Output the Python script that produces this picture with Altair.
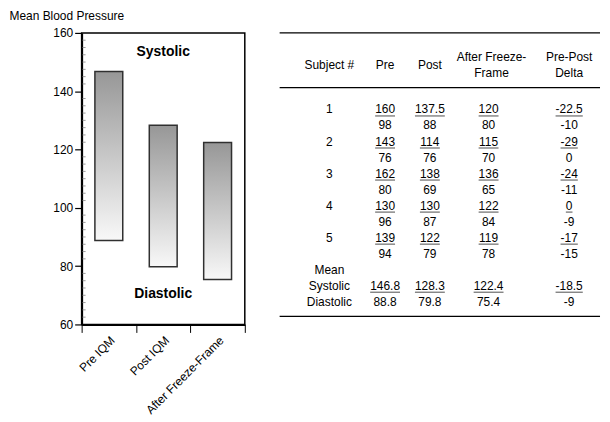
import altair as alt
import pandas as pd

FONT = "Liberation Sans"

# ---- left chart data ----
groups = ["Pre IQM", "Post IQM", "After Freeze-Frame"]
systolic_mean = [146.8, 128.3, 122.4]
diastolic_mean = [88.8, 79.8, 75.4]
annot_text = ["Systolic", "Diastolic"]
annot_y = [153.5, 70.6]
y_ticks = [60, 80, 100, 120, 140, 160]
y_minor = [62.5, 65, 67.5, 70, 72.5, 75, 77.5, 82.5, 85, 87.5, 90, 92.5, 95, 97.5,
           102.5, 105, 107.5, 110, 112.5, 115, 117.5, 122.5, 125, 127.5, 130, 132.5, 135, 137.5,
           142.5, 145, 147.5, 150, 152.5, 155, 157.5]

# ---- table data ----
subjects = ["1", "2", "3", "4", "5"]
pre_sys = ["160", "143", "162", "130", "139"]
pre_dia = ["98", "76", "80", "96", "94"]
post_sys = ["137.5", "114", "138", "130", "122"]
post_dia = ["88", "76", "69", "87", "79"]
ff_sys = ["120", "115", "136", "122", "119"]
ff_dia = ["80", "70", "65", "84", "78"]
delta_sys = ["-22.5", "-29", "-24", "0", "-17"]
delta_dia = ["-10", "0", "-11", "-9", "-15"]
mean_sys = ["146.8", "128.3", "122.4", "-18.5"]
mean_dia = ["88.8", "79.8", "75.4", "-9"]

columns = ["subject", "pre", "post", "ff", "delta"]
header_text = ["Subject #", "Pre", "Post", "After Freeze-", "Frame", "Pre-Post", "Delta"]
header_col = ["subject", "pre", "post", "ffh", "ffh", "delta", "delta"]
header_row = [-2.8, -2.8, -2.8, -3.29, -2.30, -3.29, -2.30]
rule_rows = [-4.78, -1.37, 12.92]

# layout: column centre positions inside the table panel (px)
col_pos = {"subject": 50, "pre": 106, "post": 151, "ff": 210, "ffh": 213, "delta": 291}
TABLE_W = 322
TFS = 12

# build table cells
cells = []
for t, c, r in zip(header_text, header_col, header_row):
    cells.append({"text": t, "col": c, "row": r, "ul": False})
for k in range(5):
    for c, v in zip(columns, [subjects[k], pre_sys[k], post_sys[k], ff_sys[k], delta_sys[k]]):
        cells.append({"text": v, "col": c, "row": 2 * k, "ul": c != "subject"})
    for c, v in zip(columns[1:], [pre_dia[k], post_dia[k], ff_dia[k], delta_dia[k]]):
        cells.append({"text": v, "col": c, "row": 2 * k + 1, "ul": False})
cells.append({"text": "Mean", "col": "subject", "row": 10, "ul": False})
cells.append({"text": "Systolic", "col": "subject", "row": 11, "ul": False})
cells.append({"text": "Diastolic", "col": "subject", "row": 12, "ul": False})
for c, v in zip(columns[1:], mean_sys):
    cells.append({"text": v, "col": c, "row": 11, "ul": True})
for c, v in zip(columns[1:], mean_dia):
    cells.append({"text": v, "col": c, "row": 12, "ul": False})

def text_width(s, size=TFS):
    w = {".": 278, "-": 333}
    return sum(w.get(ch, 556) for ch in s) * size / 1000.0

cells_df = pd.DataFrame(cells)
cells_df["w"] = cells_df["text"].apply(text_width)
cells_df["cx"] = cells_df["col"].map(col_pos)
ul_df = cells_df[cells_df["ul"]]

# ---- left chart ----
bars_df = pd.DataFrame({"group": groups, "sys": systolic_mean, "dia": diastolic_mean})
annot_df = pd.DataFrame({"group": [groups[1]] * 2, "label": annot_text, "y": annot_y})
minor_df = pd.DataFrame({"v": y_minor})

grad = alt.Gradient(
    gradient="linear",
    stops=[alt.GradientStop(color="#979797", offset=0),
           alt.GradientStop(color="#f8f8f8", offset=1)],
    x1=0, x2=0, y1=0, y2=1,
)

xscale = alt.Scale(domain=groups, paddingInner=0, paddingOuter=0)
xenc = alt.X(
    "group:N", sort=groups, title=None, scale=xscale,
    axis=alt.Axis(labelAngle=-45, tickBand="extent", tickSize=8, domainWidth=2,
                  domainColor="black", tickColor="black", labelFontSize=12,
                  labelColor="black", labelFont=FONT, labelPadding=2),
)
yscale = alt.Scale(domain=[60, 160], nice=False, zero=False)

bars = alt.Chart(bars_df).mark_bar(fill=grad, stroke="#303030", strokeWidth=1.5, size=28).encode(
    x=xenc,
    y=alt.Y("sys:Q", scale=yscale,
            axis=alt.Axis(values=y_ticks, grid=False, domainWidth=2,
                          domainColor="black", tickColor="black", tickSize=7, tickWidth=1.2,
                          labelFontSize=12, labelColor="black", labelFont=FONT, labelPadding=2,
                          title="Mean Blood Pressure", titleAngle=0, titleAlign="left",
                          titleBaseline="alphabetic", titleX=-73, titleY=-13,
                          titleFontSize=12, titleFontWeight="normal", titleFont=FONT,
                          titleColor="black")),
    y2="dia:Q",
)

minor = alt.Chart(minor_df).mark_rule(color="#9a9a9a", strokeWidth=1).encode(
    y=alt.Y("v:Q", scale=yscale),
    x=alt.value(1), x2=alt.value(4),
)

annot = alt.Chart(annot_df).mark_text(font=FONT, fontSize=14, fontWeight="bold", color="black").encode(
    x=alt.X("group:N", sort=groups, scale=xscale),
    y=alt.Y("y:Q", scale=yscale),
    text="label:N",
)

left = alt.layer(bars, minor, annot).properties(
    width=164, height=293,
    view=alt.ViewBackground(stroke="black", strokeWidth=1.5),
)

# ---- table ----
tx = alt.X("cx:Q", scale=alt.Scale(domain=[0, TABLE_W], range=[0, TABLE_W], nice=False, zero=False), axis=None)
ty_scale = alt.Scale(domain=[-4.78, 12.92], range=[0, 285], nice=False, zero=False)

ttext = alt.Chart(cells_df).mark_text(font=FONT, fontSize=TFS, color="black", baseline="middle").encode(
    x=tx, y=alt.Y("row:Q", scale=ty_scale, axis=None), text="text:N",
)
tul = alt.Chart(ul_df).mark_tick(orient="horizontal", thickness=1, color="black", yOffset=6.5).encode(
    x=tx, y=alt.Y("row:Q", scale=ty_scale, axis=None),
    size=alt.Size("w:Q", scale=None, legend=None),
)
rules_df = pd.DataFrame({"row": rule_rows})
trules = alt.Chart(rules_df).mark_rule(color="black", strokeWidth=1.3).encode(
    y=alt.Y("row:Q", scale=ty_scale, axis=None),
    x=alt.value(0), x2=alt.value(TABLE_W),
)

table = alt.layer(trules, ttext, tul).properties(
    width=TABLE_W, height=285,
    view=alt.ViewBackground(stroke="transparent"),
)

chart = alt.hconcat(left, table, spacing=35, bounds="flush").properties(
    padding={"left": 0, "top": 0, "right": 0, "bottom": 0}
).configure_view(stroke="transparent")

chart.save("out.html", embed_options={"renderer": "svg", "actions": False})
